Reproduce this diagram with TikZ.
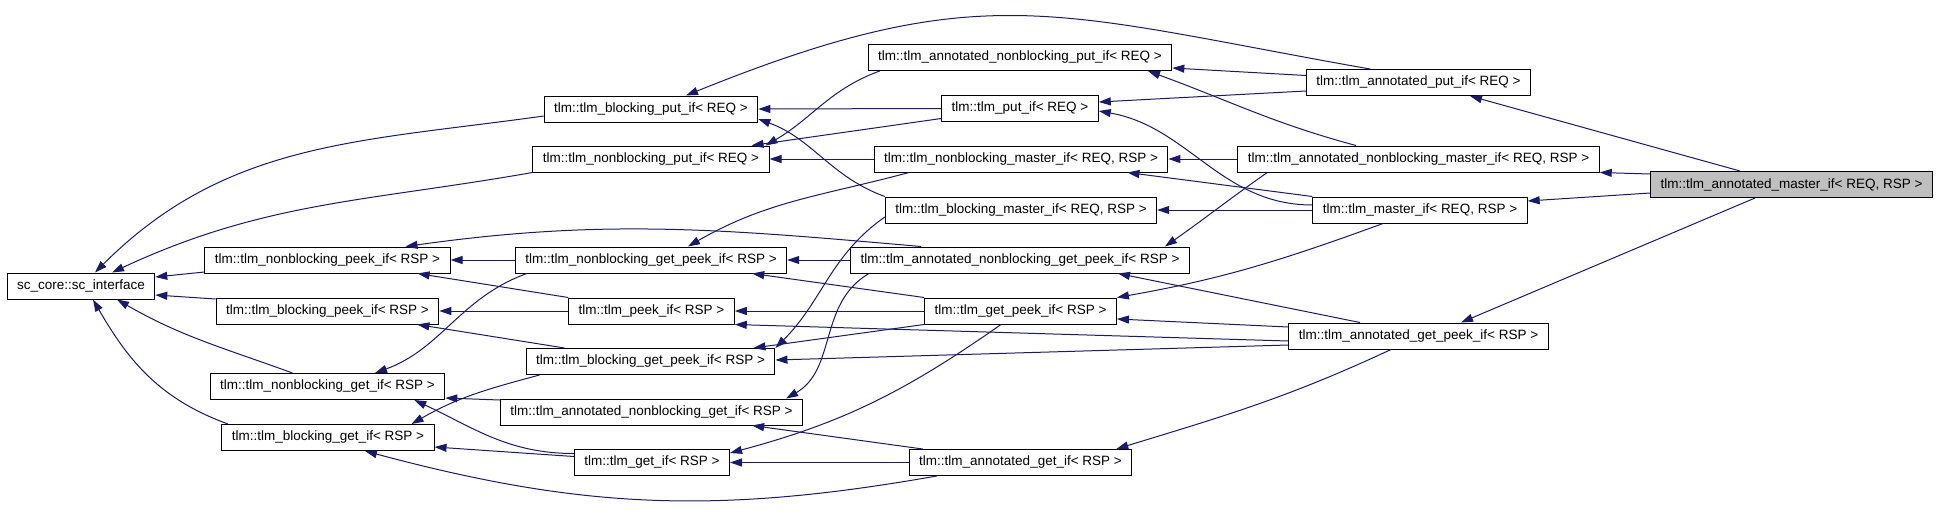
\documentclass[tikz,border=0pt]{standalone}
\usepackage{fontspec}
\setmainfont{Liberation Sans}
\usetikzlibrary{arrows.meta}
\definecolor{navy}{HTML}{191970}
\definecolor{curgray}{HTML}{BFBFBF}
\tikzset{
  cls/.style = {rectangle, draw=black, line width=0.5pt, fill=white, minimum height=13pt, inner xsep=5pt, inner ysep=0pt, font=\fontsize{6.75pt}{8pt}\selectfont},
  cur/.style = {cls, fill=curgray},
  inh/.style = {draw=navy, line width=0.5pt, -{Triangle[length=6pt,width=4pt]}}
}
\begin{document}
\begin{tikzpicture}[x=0.5pt, y=-0.5pt]

  \useasboundingbox (0,0) rectangle (1939,515);

  \node[cls] (sc)         at (81,286)      {sc\_core::sc\_interface};
  \node[cls] (bput)       at (651,109)     {tlm::tlm\_blocking\_put\_if< REQ >};
  \node[cls] (nbput)      at (651,159)     {tlm::tlm\_nonblocking\_put\_if< REQ >};
  \node[cls] (nbpeek)     at (327.5,260)   {tlm::tlm\_nonblocking\_peek\_if< RSP >};
  \node[cls] (bpeek)      at (327.5,311)   {tlm::tlm\_blocking\_peek\_if< RSP >};
  \node[cls] (nbget)      at (327.5,386.5) {tlm::tlm\_nonblocking\_get\_if< RSP >};
  \node[cls] (bget)       at (328,437.5)   {tlm::tlm\_blocking\_get\_if< RSP >};
  \node[cls] (nbgetpeek)  at (651,260)     {tlm::tlm\_nonblocking\_get\_peek\_if< RSP >};
  \node[cls] (peek)       at (651.5,311)   {tlm::tlm\_peek\_if< RSP >};
  \node[cls] (bgetpeek)   at (650.5,361.5) {tlm::tlm\_blocking\_get\_peek\_if< RSP >};
  \node[cls] (anbget)     at (651.5,412)   {tlm::tlm\_annotated\_nonblocking\_get\_if< RSP >};
  \node[cls] (get)        at (652,462.5)   {tlm::tlm\_get\_if< RSP >};
  \node[cls] (anbput)     at (1020,57.5)   {tlm::tlm\_annotated\_nonblocking\_put\_if< REQ >};
  \node[cls] (put)        at (1020,108.5)  {tlm::tlm\_put\_if< REQ >};
  \node[cls] (nbmaster)   at (1021,159)    {tlm::tlm\_nonblocking\_master\_if< REQ, RSP >};
  \node[cls] (bmaster)    at (1021,210)    {tlm::tlm\_blocking\_master\_if< REQ, RSP >};
  \node[cls] (anbgetpeek) at (1020,260)    {tlm::tlm\_annotated\_nonblocking\_get\_peek\_if< RSP >};
  \node[cls] (getpeek)    at (1020.5,311)  {tlm::tlm\_get\_peek\_if< RSP >};
  \node[cls] (aget)       at (1020.5,462.5){tlm::tlm\_annotated\_get\_if< RSP >};
  \node[cls] (aput)       at (1418.5,82.5) {tlm::tlm\_annotated\_put\_if< REQ >};
  \node[cls] (anbmaster)  at (1418.5,159)  {tlm::tlm\_annotated\_nonblocking\_master\_if< REQ, RSP >};
  \node[cls] (master)     at (1420,210)    {tlm::tlm\_master\_if< REQ, RSP >};
  \node[cls] (agetpeek)   at (1418.5,336)  {tlm::tlm\_annotated\_get\_peek\_if< RSP >};
  \node[cur] (amaster)    at (1791.5,184.5){tlm::tlm\_annotated\_master\_if< REQ, RSP >};

  \draw[inh] ([shift={(0,7)}]bput.west) to[out=188,in=45] ([shift={(14,0)}]sc.north);
  \draw[inh] (nbput.south west) to[out=190,in=25] ([shift={(31,0)}]sc.north);
  \draw[inh] ([shift={(0,12)}]nbpeek.west) -- ([shift={(0,-9)}]sc.east);
  \draw[inh] ([shift={(0,-12)}]bpeek.west) -- ([shift={(0,9)}]sc.east);
  \draw[inh] ([shift={(-35,0)}]nbget.north) to[out=160,in=-30] ([shift={(36,0)}]sc.south);
  \draw[inh] ([shift={(-100,0)}]bget.north) to[out=160,in=-60] ([shift={(12,0)}]sc.south);

  \draw[inh] (put.west) -- (bput.east);
  \draw[inh] ([shift={(0,10)}]put.west) -- ([shift={(-18,0)}]nbput.north east);
  \draw[inh] ([shift={(12,0)}]anbput.south west) to[out=200,in=30] ([shift={(-4,0)}]nbput.north east);
  \draw[inh] ([shift={(0,-7)}]aput.west) -- ([shift={(0,10.5)}]anbput.east);
  \draw[inh] ([shift={(0,8.5)}]aput.west) -- ([shift={(0,-6.5)}]put.east);
  \draw[inh] ([shift={(-48.5,0)}]aput.north) to[out=170,in=22,looseness=1.2] ([shift={(35,0)}]bput.north);

  \draw[inh] (nbmaster.west) -- (nbput.east);
  \draw[inh] ([shift={(-112,0)}]nbmaster.south) to[out=195,in=30] ([shift={(37,0)}]nbgetpeek.north);
  \draw[inh] (bmaster.north west) to[out=160,in=-20] ([shift={(0,10)}]bput.east);
  \draw[inh] ([shift={(0,7)}]bmaster.west) to[out=215,in=45] (bgetpeek.north east);
  \draw[inh] (master.west) -- (bmaster.east);
  \draw[inh] (master.north west) -- ([shift={(-41,0)}]nbmaster.south east);
  \draw[inh] ([shift={(0,-5)}]master.west) to[out=180,in=-10] ([shift={(0,2.5)}]put.east);
  \draw[inh] ([shift={(-37,0)}]master.south) to[out=200,in=10] (getpeek.north east);
  \draw[inh] (anbmaster.west) -- (nbmaster.east);
  \draw[inh] ([shift={(-62.5,0)}]anbmaster.north) to[out=165,in=-20] ([shift={(128,0)}]anbput.south);
  \draw[inh] ([shift={(30,0)}]anbmaster.south west) to[out=215,in=35] ([shift={(-25,0)}]anbgetpeek.north east);

  \draw[inh] ([shift={(-51.5,0)}]amaster.north) -- ([shift={(51.5,0)}]aput.south);
  \draw[inh] ([shift={(0,-10.5)}]amaster.west) -- (anbmaster.south east);
  \draw[inh] ([shift={(0,8.5)}]amaster.west) -- ([shift={(0,-9)}]master.east);
  \draw[inh] ([shift={(-36.5,0)}]amaster.south) -- ([shift={(42.5,0)}]agetpeek.north);

  \draw[inh] (nbgetpeek.west) -- (nbpeek.east);
  \draw[inh] ([shift={(12,0)}]nbgetpeek.south west) to[out=200,in=20] ([shift={(47.5,0)}]nbget.north);
  \draw[inh] (peek.north west) -- ([shift={(-33,0)}]nbpeek.south east);
  \draw[inh] (peek.west) -- (bpeek.east);
  \draw[inh] ([shift={(39,0)}]bgetpeek.north west) -- ([shift={(-22,0)}]bpeek.south east);
  \draw[inh] ([shift={(14,0)}]bgetpeek.south west) to[out=195,in=30] ([shift={(-23,0)}]bget.north east);
  \draw[inh] ([shift={(0,-12)}]anbget.west) -- ([shift={(0,11.5)}]nbget.east);
  \draw[inh] ([shift={(0,-9)}]get.west) to[out=180,in=-25] ([shift={(-31,0)}]nbget.south east);
  \draw[inh] ([shift={(0,-6)}]get.west) -- ([shift={(0,9.5)}]bget.east);

  \draw[inh] (anbgetpeek.west) -- (nbgetpeek.east);
  \draw[inh] ([shift={(19,0)}]anbgetpeek.south west) to[out=210,in=30] ([shift={(-17,0)}]anbget.north east);
  \draw[inh] ([shift={(71,0)}]anbgetpeek.north west) to[out=175,in=8] ([shift={(78,0)}]nbpeek.north);
  \draw[inh] (getpeek.west) -- (peek.east);
  \draw[inh] (getpeek.north west) -- ([shift={(-35,0)}]nbgetpeek.south east);
  \draw[inh] (getpeek.south west) -- ([shift={(-22,0)}]bgetpeek.north east);
  \draw[inh] ([shift={(-19.5,0)}]getpeek.south) to[out=215,in=15] ([shift={(0,-9.5)}]get.east);
  \draw[inh] (aget.west) -- (get.east);
  \draw[inh] ([shift={(14,0)}]aget.north west) -- ([shift={(-51,0)}]anbget.south east);
  \draw[inh] ([shift={(28,0)}]aget.south west) to[out=190,in=-15] ([shift={(37,0)}]bget.south);

  \draw[inh] ([shift={(-58.5,0)}]agetpeek.north) -- ([shift={(-72,0)}]anbgetpeek.south east);
  \draw[inh] ([shift={(0,-9)}]agetpeek.west) -- ([shift={(0,8)}]getpeek.east);
  \draw[inh] ([shift={(0,5)}]agetpeek.west) -- (peek.south east);
  \draw[inh] ([shift={(0,9)}]agetpeek.west) -- ([shift={(0,-1.5)}]bgetpeek.east);
  \draw[inh] ([shift={(-27.5,0)}]agetpeek.south) to[out=205,in=17] ([shift={(-16,0)}]aget.north east);

\end{tikzpicture}
\end{document}
